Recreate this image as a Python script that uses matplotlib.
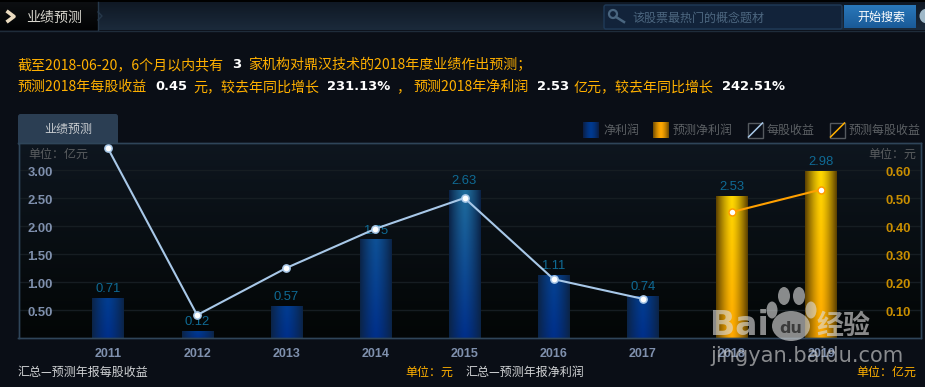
import numpy as np
import matplotlib
matplotlib.use('Agg')
import matplotlib.pyplot as plt
from matplotlib.patches import Rectangle, FancyBboxPatch, Ellipse, Circle
from matplotlib.transforms import ScaledTranslation

plt.rcParams['font.family'] = ['Noto Sans CJK SC', 'DejaVu Sans']

# chart data
years = ['2011', '2012', '2013', '2014', '2015', '2016', '2017', '2018', '2019']
profit = [0.71, 0.12, 0.57, 1.75, 2.63, 1.11, 0.74]
profit_fc = [2.53, 2.98]
eps = [0.677, 0.082, 0.25, 0.39, 0.50, 0.21, 0.14]
eps_fc = [0.45, 0.53]
left_ticks = [0.5, 1.0, 1.5, 2.0, 2.5, 3.0]
right_ticks = [0.1, 0.2, 0.3, 0.4, 0.5, 0.6]

W, H = 925, 387
BG = '#0a0e16'
ORANGE = '#ffb000'
TICK = '#7f90ad'
LABEL = '#0f6a94'
NUM = ['DejaVu Sans']
AXNUM = ['Liberation Sans']


def px(p):
    # css pixels to points
    return p * 0.72


def hex_rgb(c):
    return np.array(matplotlib.colors.to_rgb(c))


def vgrad(ax, x0, y0, x1, y1, top, bottom, zorder=1):
    t = np.linspace(0, 1, 64)[:, None, None]
    img = (1 - t) * hex_rgb(top) + t * hex_rgb(bottom)
    ax.imshow(img, extent=(x0, x1, y1, y0), aspect='auto', zorder=zorder, interpolation='bilinear')


def bar_fill(ax, bar, top, bottom, edge):
    # light across the middle of the bar, dark at both sides
    x0, w, h = bar.get_x(), bar.get_width(), bar.get_height()
    s = np.abs(np.linspace(-1, 1, 40))[None, :, None] ** 1.4
    t = np.linspace(0, 1, 64)[:, None, None]
    mid = (1 - t) * top + t * bottom
    img = mid * (1 - s) + hex_rgb(edge) * s
    ax.imshow(img, extent=(x0, x0 + w, 0, h), origin='upper', aspect='auto', zorder=2)


fig = plt.figure(figsize=(W / 100, H / 100), dpi=100, facecolor=BG)

# page furniture behind the chart
bg = fig.add_axes([0, 0, 1, 1], zorder=0)
bg.set_xlim(0, W)
bg.set_ylim(H, 0)
bg.axis('off')
bg.add_patch(Rectangle((0, 0), W, 2, color='#000000', zorder=1))
vgrad(bg, 0, 2, W, 30, '#0f1824', '#1b2a3b')
vgrad(bg, 0, 2, 98, 30, '#0d0f12', '#020304', zorder=2)
bg.plot([98, 98], [2, 30], color='#26384a', lw=1, zorder=3)
bg.plot([98, 102, 98], [12, 16, 20], color='#26384a', lw=1, zorder=3)
bg.plot([0, W], [30.5, 30.5], color='#1f2c3a', lw=1, zorder=3)
bg.plot([8, 14, 8], [12, 16.5, 21], color='#eadbc0', lw=2.6, zorder=3)

bg.add_patch(FancyBboxPatch((604, 5), 238, 24, boxstyle='round,pad=0,rounding_size=2',
                            fc='#12233a', ec='#1f3a58', lw=1, zorder=3))
bg.add_patch(Circle((613, 14), 4, fc='none', ec='#4a6680', lw=1.6, zorder=4))
bg.plot([616, 624], [17, 22], color='#4a6680', lw=1.8, zorder=4)
vgrad(bg, 844, 5, 916, 28, '#2a78ba', '#1a5a98', zorder=4)
bg.add_patch(Circle((927, 16), 7.5, fc='#9fb8c8', ec='none', zorder=4))

bg.add_patch(FancyBboxPatch((18, 114), 100, 32, boxstyle='round,pad=0,rounding_size=2.5',
                            fc='#2b3e53', ec='none', zorder=3))

# legend swatches
for x0, c_mid, c_edge in [(583, '#003a90', '#0a1f48'), (653, '#ffa800', '#7a5200')]:
    img = np.abs(np.linspace(-1, 1, 16))[None, :, None] ** 1.5
    vals = hex_rgb(c_mid) * (1 - img) + hex_rgb(c_edge) * img
    bg.imshow(vals, extent=(x0, x0 + 16, 138, 122), aspect='auto', zorder=3)
for x0, c in [(747.5, '#a8c8e8'), (829.5, ORANGE)]:
    bg.add_patch(Rectangle((x0, 122.5), 15, 15, fc='none', ec='#555a5f', lw=1, zorder=3))
    bg.plot([x0 + 1, x0 + 15], [137, 123], color=c, lw=1.1, zorder=4)
bg.set_xlim(0, W)
bg.set_ylim(H, 0)

# chart, placed by pixel box
PL, PR, PT, PB = 18.5, 921, 142.5, 338
ax = fig.add_axes([PL / W, 1 - PB / H, (PR - PL) / W, (PB - PT) / H], zorder=1)
ax2 = ax.twinx()
ax2.set_zorder(2)
ax.set_facecolor('#05080b')

x = np.arange(len(years))
n = len(profit)
y_top = (PB - PT) / 56
xmin, xmax = (PL - 108) / 89.125, (PR - 108) / 89.125

t = np.linspace(0, 1, 64)[:, None, None]
ax.imshow((1 - t) * hex_rgb('#0e161f') + t * hex_rgb('#030606'),
          extent=(xmin, xmax, 0, y_top), aspect='auto', zorder=0)

bars = ax.bar(x[:n], profit, width=0.348, color='none', zorder=2)
for b in bars:
    frac = min(b.get_height() / 2.63, 1)
    top = hex_rgb('#003a90') * (1 - frac ** 2) + hex_rgb('#1f6c9c') * frac ** 2
    bar_fill(ax, b, top, hex_rgb('#002f8a'), '#0b2448')
bars_fc = ax.bar(x[n:], profit_fc, width=0.348, color='none', zorder=2)
for b in bars_fc:
    bar_fill(ax, b, hex_rgb('#ffd800'), hex_rgb('#ffa800'), '#5e4200')

for xi, v in zip(x, profit + profit_fc):
    ax.text(xi, v + 0.06, f'{v:.2f}', ha='center', va='bottom', color=LABEL,
            fontsize=px(13), family=AXNUM, zorder=3)

ax.set_xlim(xmin, xmax)
ax.set_ylim(0, y_top)
ax2.set_ylim(0, y_top / 5)
ax.set_xticks(x, years)
ax.set_yticks(left_ticks, [f'{v:.2f}' for v in left_ticks])
ax2.set_yticks(right_ticks, [f'{v:.2f}' for v in right_ticks])
ax.grid(axis='y', color='#161d22', lw=1)
ax.set_axisbelow(True)
ax.tick_params(axis='x', length=0, pad=7.5, labelcolor=TICK, labelsize=px(12.5))
ax.tick_params(axis='y', length=0, pad=-24.8, labelcolor=TICK, labelsize=px(13))
ax2.tick_params(axis='y', length=0, pad=-25.2, labelcolor='#c98e00', labelsize=px(13))
for lab in ax.get_xticklabels() + ax.get_yticklabels() + ax2.get_yticklabels():
    lab.set_family(AXNUM)
    lab.set_weight('bold')
# y labels sit a pixel under their grid line
down = ScaledTranslation(0, -1.2 / 100, fig.dpi_scale_trans)
for lab in ax.get_yticklabels() + ax2.get_yticklabels():
    lab.set_transform(lab.get_transform() + down)
for a in (ax, ax2):
    for s in a.spines.values():
        s.set_color('#2f4559')
        s.set_linewidth(1)

ax2.plot(x[:n], eps, color='#a8c8e8', lw=1.5, marker='o', ms=5.2,
         mfc='#ffffff', mec='#a8c8e8', mew=1.1)
ax2.plot(x[n:], eps_fc, color='#ffa000', lw=1.5, marker='o', ms=5.0,
         mfc='#ffffff', mec='#ff9c00', mew=1.1)

# texts and watermark on top
top = fig.add_axes([0, 0, 1, 1], zorder=5)
top.set_xlim(0, W)
top.set_ylim(H, 0)
top.axis('off')
top.patch.set_alpha(0)


def put(x0, y0, s, color, size, ha='left', **kw):
    top.text(x0, y0 + 0.8, s, color=color, fontsize=px(size), ha=ha, va='center', **kw)


put(26.5, 17, '业绩预测', '#d8d6ce', 14)
put(632, 17, '该股票最热门的概念题材', '#4d6780', 12)
put(857, 17, '开始搜索', '#ffffff', 12)
put(44, 129, '业绩预测', '#c8ccd0', 12)

put(17.5, 64, '截至2018-06-20，6个月以内共有', ORANGE, 14)
put(232, 64, '3', '#ffffff', 13, weight='bold', family=NUM)
put(248, 64, '家机构对鼎汉技术的2018年度业绩作出预测；', ORANGE, 14)
put(17.5, 86, '预测2018年每股收益', ORANGE, 14)
put(155, 86, '0.45', '#ffffff', 13, weight='bold', family=NUM)
put(193, 86, '元，较去年同比增长', ORANGE, 14)
put(327, 86, '231.13%', '#ffffff', 13, weight='bold', family=NUM)
put(396, 86, '，', ORANGE, 14)
put(413, 86, '预测2018年净利润', ORANGE, 14)
put(537, 86, '2.53', '#ffffff', 13, weight='bold', family=NUM)
put(574, 86, '亿元，较去年同比增长', ORANGE, 14)
put(722, 86, '242.51%', '#ffffff', 13, weight='bold', family=NUM)

put(603, 130, '净利润', '#5c6064', 12)
put(673, 130, '预测净利润', '#5c6064', 12)
put(767, 130, '每股收益', '#5c6064', 12)
put(849, 130, '预测每股收益', '#5c6064', 12)

put(28, 154, '单位：亿元', '#5a5d60', 12)
put(868, 154, '单位：元', '#5a5d60', 12)

put(18, 372, '汇总—预测年报每股收益', '#d0d2d4', 12)
put(405, 372, '单位：元', ORANGE, 12)
put(466, 372, '汇总—预测年报净利润', '#d0d2d4', 12)
put(856, 372, '单位：亿元', ORANGE, 12)

# baidu watermark
WM = '#dcdcdc'
put(710, 325, 'Bai', WM, 33, weight='bold', family=NUM, alpha=0.62)
for cx, cy, w, h in [(772, 310, 11, 17), (784, 296, 12, 18), (799, 296, 12, 18), (811, 310, 11, 17)]:
    top.add_patch(Ellipse((cx, cy), w, h, fc=WM, ec='none', alpha=0.62))
top.add_patch(Ellipse((791, 326), 38, 30, fc=WM, ec='none', alpha=0.62))
put(791, 328, 'du', '#1a1a1a', 16, ha='center', weight='bold', family=NUM, alpha=0.7)
put(817, 325, '经验', WM, 27, weight='bold', alpha=0.62)
put(710, 355, 'jingyan.baidu.com', '#cfcfcf', 21, family=NUM, alpha=0.65)

fig.savefig('out.png', dpi=100, facecolor=BG)
